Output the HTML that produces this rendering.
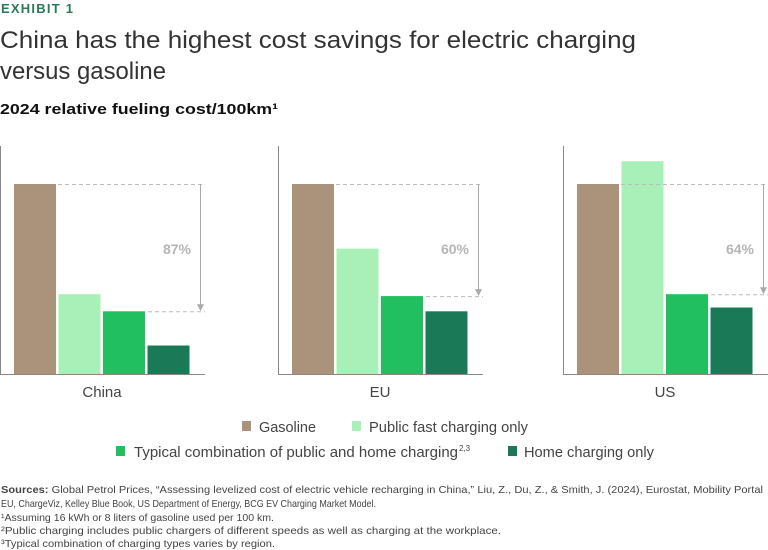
<!DOCTYPE html>
<html><head><meta charset="utf-8"><style>
html,body{margin:0;padding:0;background:#fff;}
svg{display:block;font-family:"Liberation Sans",sans-serif;}
</style></head><body>
<svg id="c" width="768" height="550" viewBox="0 0 768 550">
<text x="1" y="13" font-size="13" font-weight="bold" fill="#2b7a56" textLength="72">EXHIBIT 1</text>
<text x="0" y="48" font-size="24" fill="#333" textLength="636" lengthAdjust="spacingAndGlyphs">China has the highest cost savings for electric charging</text>
<text x="0" y="79" font-size="24" fill="#333" textLength="166" lengthAdjust="spacingAndGlyphs">versus gasoline</text>
<text x="0" y="114" font-size="15" font-weight="bold" fill="#111" textLength="278" lengthAdjust="spacingAndGlyphs">2024 relative fueling cost/100km¹</text>
<g id="panels"></g>
<g>
<rect x="242" y="421" width="9" height="10" fill="#ab937b"/>
<text x="259" y="432" font-size="14.5" fill="#444" textLength="57" lengthAdjust="spacingAndGlyphs">Gasoline</text>
<rect x="352" y="421" width="9" height="10" fill="#a8f0b8"/>
<text x="369" y="432" font-size="14.5" fill="#444" textLength="159" lengthAdjust="spacingAndGlyphs">Public fast charging only</text>
<rect x="116" y="446" width="9" height="10" fill="#21bf5f"/>
<text x="134" y="457" font-size="14.5" fill="#444" textLength="324" lengthAdjust="spacingAndGlyphs">Typical combination of public and home charging</text>
<text x="459" y="451" font-size="8" fill="#444">2,3</text>
<rect x="508" y="446" width="9" height="10" fill="#1a7a58"/>
<text x="524" y="457" font-size="14.5" fill="#444" textLength="130" lengthAdjust="spacingAndGlyphs">Home charging only</text>
</g>
<g font-size="10.5" fill="#444">
<text x="1" y="493" textLength="762" lengthAdjust="spacingAndGlyphs"><tspan font-weight="bold">Sources:</tspan> Global Petrol Prices, “Assessing levelized cost of electric vehicle recharging in China,” Liu, Z., Du, Z., &amp; Smith, J. (2024), Eurostat, Mobility Portal</text>
<text x="1" y="507" textLength="375" lengthAdjust="spacingAndGlyphs">EU, ChargeViz, Kelley Blue Book, US Department of Energy, BCG EV Charging Market Model.</text>
<text x="1" y="521" textLength="273" lengthAdjust="spacingAndGlyphs">¹Assuming 16 kWh or 8 liters of gasoline used per 100 km.</text>
<text x="1" y="534" textLength="500" lengthAdjust="spacingAndGlyphs">²Public charging includes public chargers of different speeds as well as charging at the workplace.</text>
<text x="1" y="547" textLength="274" lengthAdjust="spacingAndGlyphs">³Typical combination of charging types varies by region.</text>
</g>
</svg>
<script>
const regions = ["China", "EU", "US"];
const gasoline = [100, 100, 100];
const fastCharging = [42, 66, 112];
const typicalCharging = [33, 41, 42];
const homeCharging = [15, 33, 35];
const savingsLabels = ["87%", "60%", "64%"];

const NS = "http://www.w3.org/2000/svg";
const g = document.getElementById("panels");
const panelX = [0, 278, 563];
const baseY = 374, topY = 146, fullH = 190;
function yScale(v){ return baseY - v / 100 * fullH; }
function mk(tag, attrs){ const e = document.createElementNS(NS, tag); for (const k in attrs) e.setAttribute(k, attrs[k]); g.appendChild(e); return e; }
const series = [gasoline, fastCharging, typicalCharging, homeCharging];
const colors = ["#ab937b", "#a8f0b8", "#21bf5f", "#1a7a58"];
const sNames = ["gasoline", "fast", "typical", "home"];
regions.forEach((r, i) => {
  const x0 = panelX[i];
  const ax = mk("path", {d: `M${x0+0.5},${topY} V${baseY+0.5} H${x0+205}`, stroke: "#888", fill: "none", "stroke-width": 1});
  
  
  series.forEach((s, j) => {
    const y = yScale(s[i]);
    const b = mk("rect", {x: x0 + 14 + j * 44.5, y: y, width: 42, height: baseY - y, fill: colors[j]});
    
    
  });
  const yTop = yScale(gasoline[i]), yLow = yScale(typicalCharging[i]);
  const d1 = mk("path", {d: `M${x0+58},${yTop+0.5} H${x0+205} M${x0+148},${yLow+0.5} H${x0+205}`, stroke: "#bbb", "stroke-dasharray": "4 3", fill: "none"});
  
  
  const ar = mk("path", {d: `M${x0+200.5},${yTop} V${yLow-5}`, stroke: "#aaa", fill: "none"});
  
  
  const ah = mk("path", {d: `M${x0+197},${yLow-7} L${x0+204},${yLow-7} L${x0+200.5},${yLow} Z`, fill: "#aaa"});
  
  
  const lb = mk("text", {x: x0 + 191, y: yTop + 70, "text-anchor": "end", "font-size": 14, "font-weight": "bold", fill: "#b5b5b5"});
  lb.textContent = savingsLabels[i];
  
  
  const cl = mk("text", {x: x0 + 102, y: 397, "text-anchor": "middle", "font-size": 15, fill: "#444"});
  cl.textContent = r;
  
  
});
</script>
</body></html>
